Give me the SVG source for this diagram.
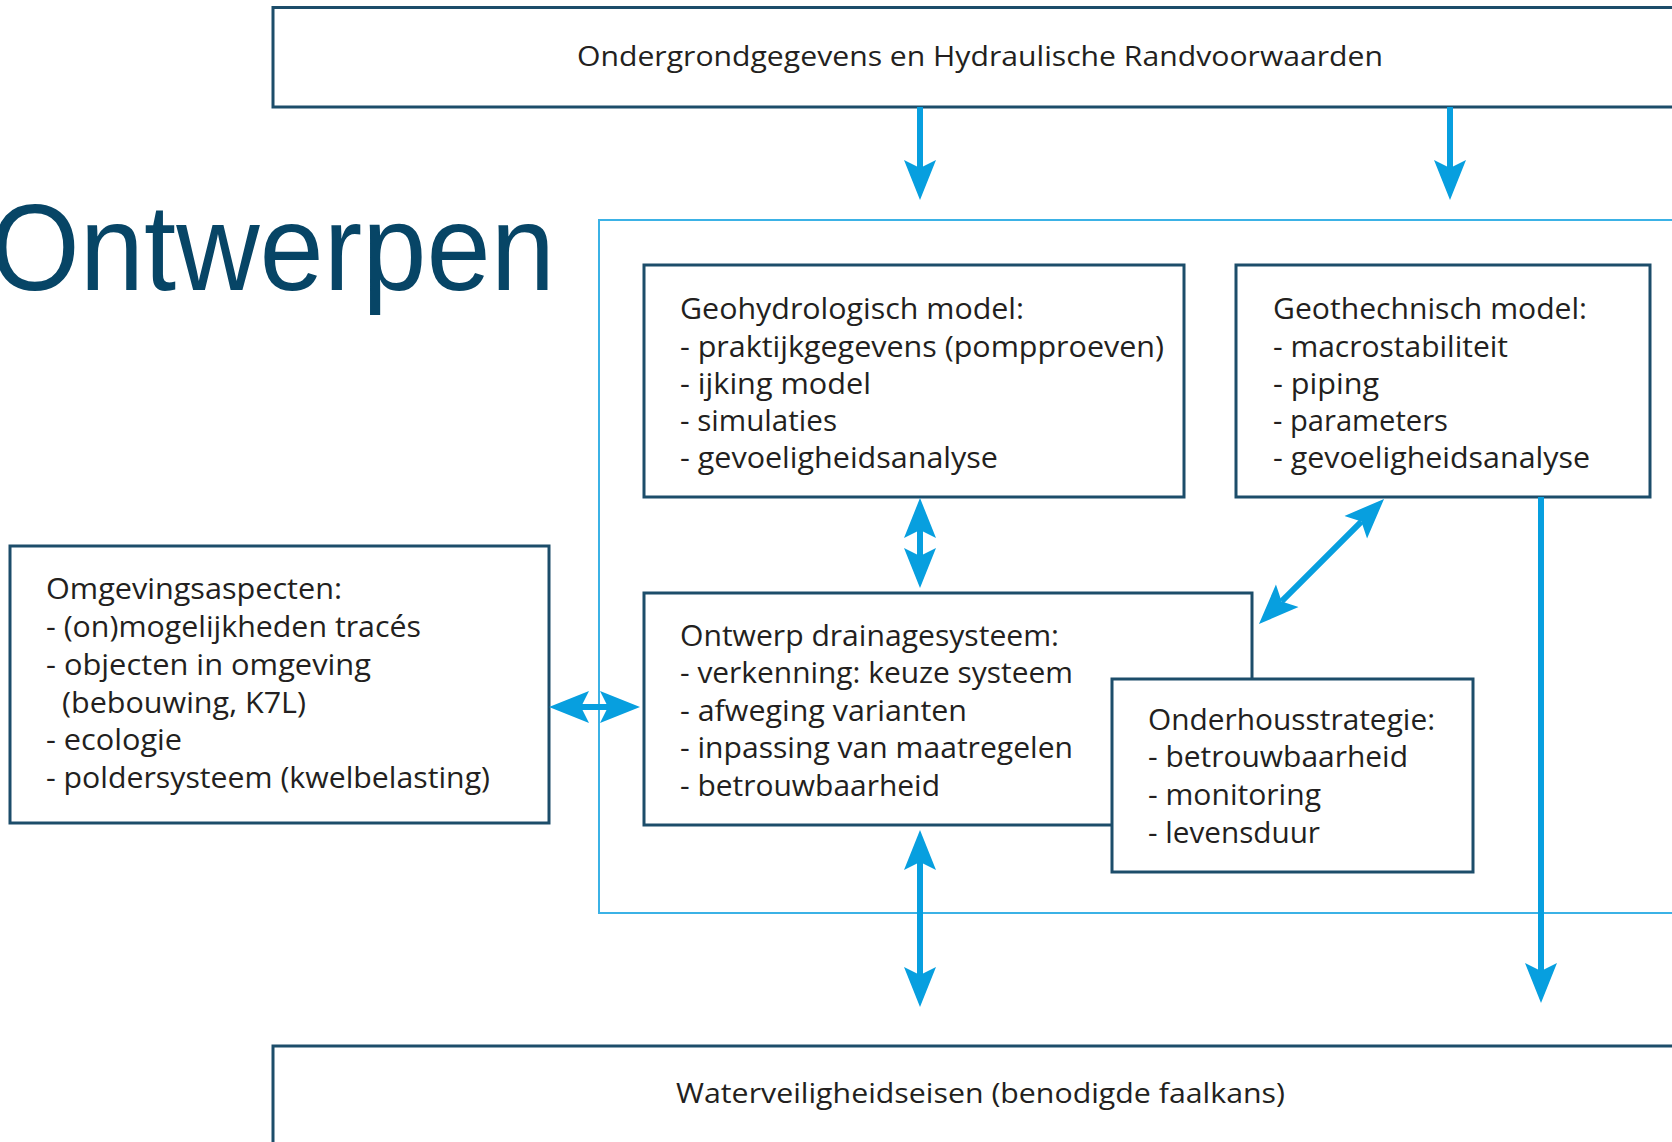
<svg xmlns="http://www.w3.org/2000/svg" width="1672" height="1142" viewBox="0 0 1672 1142">
  <style>
    .box { fill: #ffffff; stroke: #1c4d6a; stroke-width: 3; }
    .frame { fill: none; stroke: #3bb2e6; stroke-width: 2; }
    .txt { font-family: "Open Sans", "Noto Sans", sans-serif; font-size: 30px; fill: #231f20; }
    .lbl { font-family: "Open Sans", "Noto Sans", sans-serif; font-size: 28px; fill: #231f20; }
    .title { font-family: "Liberation Sans", Arial, sans-serif; font-size: 122px; fill: #074566; }
    .arrow { fill: none; stroke: #079fdf; stroke-width: 6; }
  </style>
  <defs>
    <marker id="head" viewBox="0 -20 44 40" markerWidth="44" markerHeight="40" refX="8" refY="0" markerUnits="userSpaceOnUse" orient="auto-start-reverse">
      <path d="M0,-16 L40,0 L0,16 L8,0 Z" fill="#079fdf"/>
    </marker>
  </defs>

  <rect width="1672" height="1142" fill="#ffffff"/>

  <!-- title -->
  <text class="title" x="-10" y="290" textLength="565" lengthAdjust="spacingAndGlyphs">Ontwerpen</text>

  <!-- light blue frame around the design boxes -->
  <rect class="frame" x="599" y="220" width="1110" height="693"/>

  <g id="node-ondergrond">
    <rect class="box" x="273" y="7.5" width="1430" height="99.5"/>
    <text class="lbl" x="577" y="66" textLength="806" lengthAdjust="spacingAndGlyphs">Ondergrondgegevens en Hydraulische Randvoorwaarden</text>
  </g>

  <g id="node-geohydrologisch">
    <rect class="box" x="644" y="265" width="540" height="232"/>
    <text class="txt" x="680" y="319" textLength="344" lengthAdjust="spacingAndGlyphs">Geohydrologisch model:</text>
    <text class="txt" x="680" y="356.5" textLength="484" lengthAdjust="spacingAndGlyphs">- praktijkgegevens (pompproeven)</text>
    <text class="txt" x="680" y="394" textLength="191" lengthAdjust="spacingAndGlyphs">- ijking model</text>
    <text class="txt" x="680" y="431" textLength="157" lengthAdjust="spacingAndGlyphs">- simulaties</text>
    <text class="txt" x="680" y="468" textLength="318" lengthAdjust="spacingAndGlyphs">- gevoeligheidsanalyse</text>
  </g>

  <g id="node-geotechnisch">
    <rect class="box" x="1236" y="265" width="414" height="232"/>
    <text class="txt" x="1273" y="319" textLength="314" lengthAdjust="spacingAndGlyphs">Geothechnisch model:</text>
    <text class="txt" x="1273" y="356.5" textLength="235" lengthAdjust="spacingAndGlyphs">- macrostabiliteit</text>
    <text class="txt" x="1273" y="394" textLength="106" lengthAdjust="spacingAndGlyphs">- piping</text>
    <text class="txt" x="1273" y="431" textLength="175" lengthAdjust="spacingAndGlyphs">- parameters</text>
    <text class="txt" x="1273" y="468" textLength="317" lengthAdjust="spacingAndGlyphs">- gevoeligheidsanalyse</text>
  </g>

  <g id="node-omgeving">
    <rect class="box" x="10" y="546" width="539" height="277"/>
    <text class="txt" x="46" y="599" textLength="296" lengthAdjust="spacingAndGlyphs">Omgevingsaspecten:</text>
    <text class="txt" x="46" y="637" textLength="375" lengthAdjust="spacingAndGlyphs">- (on)mogelijkheden tracés</text>
    <text class="txt" x="46" y="675" textLength="325" lengthAdjust="spacingAndGlyphs">- objecten in omgeving</text>
    <text class="txt" x="62" y="713" textLength="244" lengthAdjust="spacingAndGlyphs">(bebouwing, K7L)</text>
    <text class="txt" x="46" y="750" textLength="136" lengthAdjust="spacingAndGlyphs">- ecologie</text>
    <text class="txt" x="46" y="788" textLength="444" lengthAdjust="spacingAndGlyphs">- poldersysteem (kwelbelasting)</text>
  </g>

  <g id="node-ontwerp">
    <rect class="box" x="644" y="593" width="608" height="232"/>
    <text class="txt" x="680" y="646" textLength="379" lengthAdjust="spacingAndGlyphs">Ontwerp drainagesysteem:</text>
    <text class="txt" x="680" y="683" textLength="393" lengthAdjust="spacingAndGlyphs">- verkenning: keuze systeem</text>
    <text class="txt" x="680" y="721" textLength="287" lengthAdjust="spacingAndGlyphs">- afweging varianten</text>
    <text class="txt" x="680" y="758" textLength="393" lengthAdjust="spacingAndGlyphs">- inpassing van maatregelen</text>
    <text class="txt" x="680" y="796" textLength="260" lengthAdjust="spacingAndGlyphs">- betrouwbaarheid</text>
  </g>

  <g id="node-onderhoud">
    <rect class="box" x="1112" y="679" width="361" height="193"/>
    <text class="txt" x="1148" y="730" textLength="287" lengthAdjust="spacingAndGlyphs">Onderhousstrategie:</text>
    <text class="txt" x="1148" y="767" textLength="260" lengthAdjust="spacingAndGlyphs">- betrouwbaarheid</text>
    <text class="txt" x="1148" y="805" textLength="173" lengthAdjust="spacingAndGlyphs">- monitoring</text>
    <text class="txt" x="1148" y="843" textLength="172" lengthAdjust="spacingAndGlyphs">- levensduur</text>
  </g>

  <g id="node-waterveiligheid">
    <rect class="box" x="273" y="1046" width="1430" height="120"/>
    <text class="lbl" x="676" y="1103" textLength="609" lengthAdjust="spacingAndGlyphs">Waterveiligheidseisen (benodigde faalkans)</text>
  </g>

  <g id="connectors">
    <!-- inputs from the top box -->
    <line class="arrow" x1="920" y1="107" x2="920" y2="168" marker-end="url(#head)"/>
    <line class="arrow" x1="1450" y1="107" x2="1450" y2="168" marker-end="url(#head)"/>
    <!-- geohydrologisch <-> ontwerp -->
    <line class="arrow" x1="920" y1="530" x2="920" y2="556" marker-start="url(#head)" marker-end="url(#head)"/>
    <!-- geotechnisch <-> ontwerp -->
    <line class="arrow" x1="1361.4" y1="521.6" x2="1281.6" y2="601.4" marker-start="url(#head)" marker-end="url(#head)"/>
    <!-- omgeving <-> ontwerp -->
    <line class="arrow" x1="581" y1="707" x2="608" y2="707" marker-start="url(#head)" marker-end="url(#head)"/>
    <!-- ontwerp <-> waterveiligheid -->
    <line class="arrow" x1="920" y1="862" x2="920" y2="975" marker-start="url(#head)" marker-end="url(#head)"/>
    <!-- geotechnisch -> waterveiligheid -->
    <line class="arrow" x1="1541" y1="497" x2="1541" y2="971" marker-end="url(#head)"/>
  </g>
</svg>
